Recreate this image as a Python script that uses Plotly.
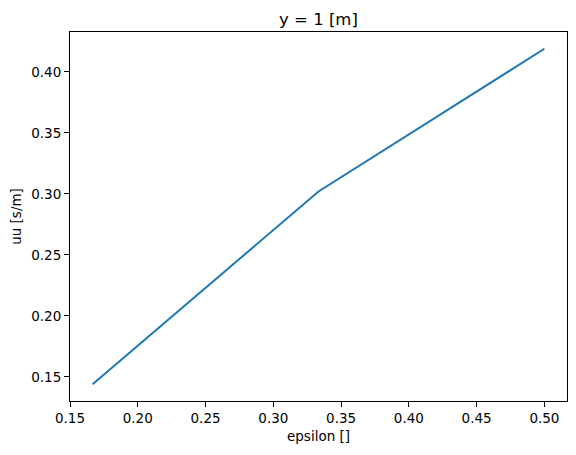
import plotly.graph_objects as go

# epsilon values and resulting uu at y = 1 m
epsilon = [1 / 6, 1 / 3, 0.5]
uu = [0.144, 0.302, 0.419]

PLOT_TITLE = "y = 1 [m]"
X_AXIS_LABEL = "epsilon []"
Y_AXIS_LABEL = "uu [s/m]"

# the page body adds an 8px offset, so the figure is shrunk by that amount
OFFSET = 8
FIG_W = 576 - OFFSET
FIG_H = 455 - OFFSET

fig = go.Figure()
fig.add_trace(
    go.Scatter(
        x=epsilon,
        y=uu,
        mode="lines",
        line=dict(color="#1f77b4", width=2),
        showlegend=False,
    )
)

# matplotlib-like 5% margins around the data
x_pad = (max(epsilon) - min(epsilon)) * 0.05
y_pad = (max(uu) - min(uu)) * 0.05

axis_style = dict(
    showline=True,
    linecolor="black",
    linewidth=1,
    mirror=True,
    ticks="outside",
    ticklen=5,
    tickwidth=1,
    tickcolor="black",
    showgrid=False,
    zeroline=False,
    automargin=False,
    tickfont=dict(size=13.5, color="black"),
    tickformat=".2f",
)

fig.update_layout(
    width=FIG_W,
    height=FIG_H,
    paper_bgcolor="white",
    plot_bgcolor="white",
    font=dict(family="DejaVu Sans", color="black"),
    margin=dict(l=62, r=9, t=24, b=54),
    title=dict(
        text=PLOT_TITLE,
        font=dict(size=16.5),
        x=((70 + 567) / 2 - OFFSET) / FIG_W,
        xanchor="center",
        y=1 - (19 - OFFSET) / FIG_H,
        yanchor="middle",
    ),
    xaxis=dict(
        axis_style,
        range=[min(epsilon) - x_pad, max(epsilon) + x_pad],
        tick0=0.15,
        dtick=0.05,
        title=dict(text=X_AXIS_LABEL, font=dict(size=13.5), standoff=6),
    ),
    yaxis=dict(
        axis_style,
        range=[min(uu) - y_pad, max(uu) + y_pad],
        tick0=0.15,
        dtick=0.05,
        title=dict(text=Y_AXIS_LABEL, font=dict(size=13.5), standoff=8),
    ),
)

fig.write_html("out.html")
